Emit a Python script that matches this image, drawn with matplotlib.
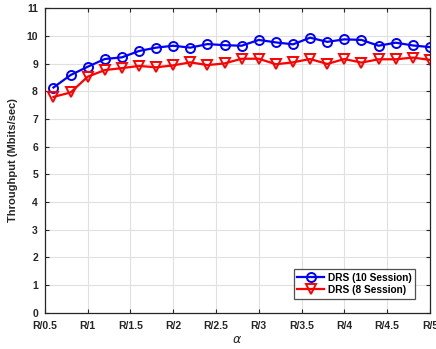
import numpy as np
import matplotlib
matplotlib.use("Agg")
import matplotlib.pyplot as plt

plt.rcParams['font.family'] = ['Liberation Sans', 'DejaVu Sans']

# Sample positions (alpha index) and throughput values
alpha = np.round(np.arange(0.6, 5.01, 0.2), 2)
drs10 = [8.14, 8.59, 8.89, 9.17, 9.23, 9.46, 9.58, 9.65, 9.58, 9.71, 9.67, 9.65,
         9.86, 9.77, 9.70, 9.94, 9.79, 9.88, 9.86, 9.65, 9.76, 9.66, 9.60]
drs8 = [7.80, 7.96, 8.53, 8.77, 8.84, 8.92, 8.87, 8.94, 9.05, 8.95, 9.01, 9.18,
        9.18, 8.98, 9.05, 9.17, 8.99, 9.17, 9.04, 9.16, 9.16, 9.22, 9.14]

tick_pos = np.arange(0.5, 5.01, 0.5)
tick_labels = ['R/0.5', 'R/1', 'R/1.5', 'R/2', 'R/2.5', 'R/3', 'R/3.5', 'R/4', 'R/4.5', 'R/5']

fig = plt.figure(figsize=(4.36, 3.49), dpi=100)
ax = fig.add_axes([0.103, 0.104, 0.883, 0.872])

ax.plot(alpha, drs10, color=(0, 0, 1), lw=1.6, marker='o', ms=6.5, mfc='none',
        mew=1.4, label='DRS (10 Session)')
ax.plot(alpha, drs8, color=(1, 0, 0), lw=1.6, marker='v', ms=7, mfc='none',
        mew=1.4, label='DRS (8 Session)')

ax.set_xlim(0.5, 5.0)
ax.set_ylim(0, 11)
ax.set_xticks(tick_pos)
ax.set_xticklabels(tick_labels)
ax.set_yticks(np.arange(0, 12, 1))

ax.grid(True, color='#e0e0e0', lw=0.8)
ax.set_axisbelow(True)
ax.tick_params(direction='in', top=True, right=True, length=3, width=0.8,
               labelsize=7.5, colors='#262626')
ax.tick_params(axis='x', pad=6)
ax.tick_params(axis='y', pad=5)
for lab in ax.get_xticklabels() + ax.get_yticklabels():
    lab.set_fontweight('bold')
for sp in ax.spines.values():
    sp.set_color('#262626')
    sp.set_linewidth(0.9)

ax.set_ylabel('Throughput (Mbits/sec)', fontsize=8, fontweight='bold', color='#262626',
              labelpad=6)
ax.set_xlabel(r'$\alpha$', fontsize=9, color='#262626', labelpad=2)

leg = ax.legend(loc='lower right', bbox_to_anchor=(0.975, 0.03),
                prop={'weight': 'bold', 'size': 7.3}, frameon=True, fancybox=False,
                edgecolor='#262626', borderpad=0.35, handlelength=2.6,
                handletextpad=0.4, labelspacing=0.2)
leg.get_frame().set_linewidth(0.9)

fig.savefig('out.png', dpi=100)
